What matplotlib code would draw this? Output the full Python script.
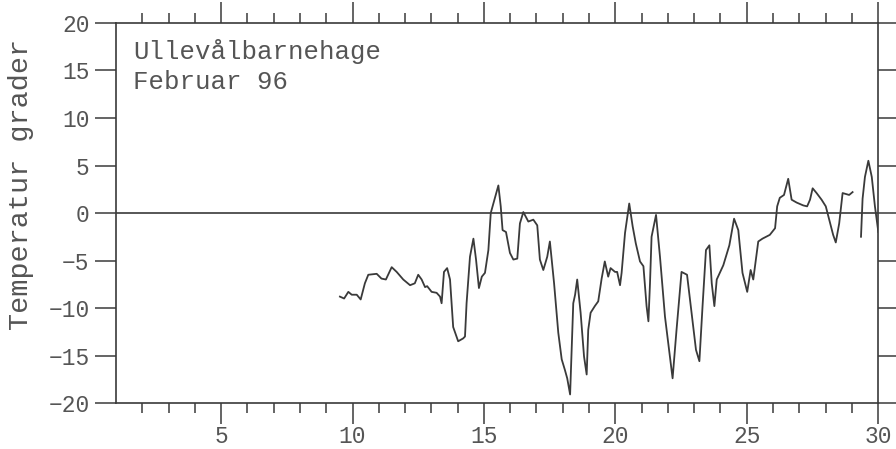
import numpy as np
import matplotlib

matplotlib.use("Agg")
import matplotlib.pyplot as plt

station = "Ullevålbarnehage"
period = "Februar 96"
y_label = "Temperatur grader"

x_ticks = [5, 10, 15, 20, 25, 30]
y_ticks = [-20, -15, -10, -5, 0, 5, 10, 15, 20]

# readings (day of month, deg C); nan = gap in logging
day = [
    9.52, 9.68, 9.84, 9.97, 10.16, 10.31, 10.47, 10.6, 10.92, 11.1, 11.27, 11.49,
    11.68, 11.93, 12.19, 12.37, 12.5, 12.63, 12.76, 12.84, 13.01, 13.2, 13.33, 13.39,
    13.48, 13.6, 13.71, 13.83, 14.02, 14.21, 14.28, 14.34, 14.47, 14.6, 14.7, 14.81,
    14.92, 15.04, 15.17, 15.26, 15.36, 15.55, 15.64, 15.71, 15.84, 15.99, 16.12, 16.27,
    16.37, 16.5, 16.69, 16.88, 17.03, 17.13, 17.26, 17.41, 17.51, 17.67, 17.83, 17.96,
    18.08, 18.17, 18.28, 18.4, 18.47, 18.55, 18.68, 18.81, 18.91, 18.97, 19.06, 19.22,
    19.35, 19.48, 19.6, 19.73, 19.82, 19.99, 20.07, 20.18, 20.24, 20.37, 20.53, 20.66,
    20.78, 20.94, 21.07, 21.19, 21.26, 21.32, 21.38, 21.55, 21.7, 21.89, 22.08, 22.18,
    22.33, 22.52, 22.73, 22.9, 23.07, 23.2, 23.32, 23.45, 23.58, 23.67, 23.77, 23.86,
    24.11, 24.34, 24.52, 24.68, 24.84, 25.02, 25.15, 25.25, 25.44, 25.6, 25.88, 26.08,
    26.16, 26.26, 26.42, 26.58, 26.71, 26.9, 27.15, 27.3, 27.41, 27.51, 27.66, 27.85,
    28.01, 28.16, 28.29, 28.39, 28.52, 28.65, 28.78, 28.9, 29.03, 29.2,
    29.35, 29.41, 29.5, 29.63, 29.76, 29.88, 30.01,
]
temp = [
    -8.8, -9.0, -8.3, -8.6, -8.6, -9.1, -7.4, -6.5, -6.4, -6.9, -7.0, -5.7,
    -6.2, -7.0, -7.6, -7.4, -6.5, -7.0, -7.8, -7.7, -8.3, -8.4, -8.8, -9.5,
    -6.2, -5.8, -7.0, -12.0, -13.5, -13.2, -13.0, -9.5, -4.6, -2.7, -4.9, -7.9,
    -6.7, -6.3, -3.9, 0.0, 1.0, 2.9, 0.7, -1.8, -2.0, -4.2, -4.9, -4.8,
    -1.1, 0.1, -0.9, -0.7, -1.3, -4.9, -6.0, -4.6, -3.0, -7.4, -12.6, -15.4,
    -16.5, -17.4, -19.1, -9.5, -8.6, -7.0, -10.5, -15.1, -17.0, -12.3, -10.5, -9.8,
    -9.3, -6.9, -5.1, -6.7, -5.8, -6.2, -6.2, -7.6, -6.3, -2.1, 1.0, -1.4,
    -3.2, -5.1, -5.6, -9.8, -11.4, -7.4, -2.5, -0.2, -4.6, -10.9, -15.1, -17.4,
    -12.3, -6.2, -6.5, -10.5, -14.4, -15.6, -9.8, -3.9, -3.4, -7.4, -9.8, -7.0,
    -5.5, -3.4, -0.6, -1.8, -6.3, -8.3, -6.0, -7.0, -3.0, -2.7, -2.3, -1.6,
    0.7, 1.6, 1.9, 3.6, 1.4, 1.1, 0.8, 0.7, 1.4, 2.6, 2.1, 1.4,
    0.7, -0.9, -2.3, -3.1, -1.1, 2.1, 2.0, 1.9, 2.2, np.nan,
    -2.5, 1.5, 3.8, 5.5, 3.8, 0.7, -2.0,
]

ink = "#3a3a3a"
text_ink = "#555555"
plt.rcParams["font.family"] = ["Liberation Mono", "DejaVu Sans Mono"]

fig = plt.figure(figsize=(8.96, 4.49), dpi=100)
ax = fig.add_axes([0.1295, 0.1024, 0.8505, 0.8464])

ax.plot(day, temp, color=ink, lw=1.3)
ax.axhline(0, color=ink, lw=1.2)

ax.set_xlim(1, 30)
ax.set_ylim(-20, 20)
ax.set_xticks(x_ticks)
ax.set_xticks(range(2, 30), minor=True)
ax.set_yticks(y_ticks)

ax.tick_params(which="both", direction="out", colors=ink, labelcolor=text_ink,
               labelsize=16.5, top=True, right=True, width=1.1)
ax.tick_params(which="major", length=15)
ax.tick_params(which="minor", length=7)
ax.tick_params(axis="y", pad=4)
ax.tick_params(axis="x", pad=1)
for s in ax.spines.values():
    s.set_color(ink)
    s.set_linewidth(1.2)

# ylabel anchors at its lower (right, once rotated) edge
ax.set_ylabel(y_label, color=text_ink, fontsize=20.5)
ax.yaxis.set_label_coords(-0.108, 0.574)
ax.text(0.022, 0.924, station, transform=ax.transAxes, color=text_ink,
        fontsize=18.5, va="center")
ax.text(0.022, 0.845, period, transform=ax.transAxes, color=text_ink,
        fontsize=18.5, va="center")

fig.savefig("out.png", dpi=100)
